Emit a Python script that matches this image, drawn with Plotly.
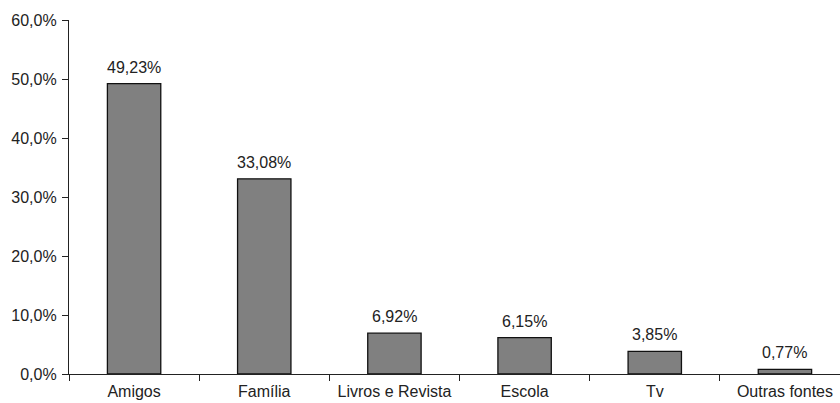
import plotly.graph_objects as go

# Sources of information (share of respondents, %)
categories = ["Amigos", "Família", "Livros e Revista", "Escola", "Tv", "Outras fontes"]
values = [49.23, 33.08, 6.92, 6.15, 3.85, 0.77]
y_ticks = [0, 10, 20, 30, 40, 50, 60]
y_tick_labels = ["0,0%", "10,0%", "20,0%", "30,0%", "40,0%", "50,0%", "60,0%"]

bar_labels = [f"{v:.2f}%".replace(".", ",") for v in values]

font_family = "Liberation Sans, Arial, sans-serif"
font_size = 16
text_color = "#222222"
line_color = "#222222"

fig = go.Figure(
    go.Bar(
        x=categories,
        y=values,
        width=0.41,
        marker=dict(color="#808080", line=dict(color="#111111", width=1.3)),
        hoverinfo="skip",
    )
)

# value labels above each bar
for cat, v, lab in zip(categories, values, bar_labels):
    fig.add_annotation(
        x=cat,
        y=v,
        text=lab,
        showarrow=False,
        yanchor="bottom",
        yshift=6,
        font=dict(family=font_family, size=font_size, color=text_color),
    )

fig.update_layout(
    width=840,
    height=403,
    margin=dict(l=69, r=0, t=20, b=29),
    paper_bgcolor="white",
    plot_bgcolor="white",
    showlegend=False,
    font=dict(family=font_family, size=font_size, color=text_color),
)

fig.update_xaxes(
    type="category",
    range=[-0.5, 5.423],
    automargin=False,
    tickson="boundaries",
    ticks="outside",
    ticklen=6,
    tickwidth=1.3,
    tickcolor=line_color,
    ticklabelstandoff=3,
    showgrid=False,
    zeroline=False,
    showline=True,
    linecolor=line_color,
    linewidth=1.3,
    tickfont=dict(family=font_family, size=font_size, color=text_color),
)

fig.update_yaxes(
    range=[0, 60],
    automargin=False,
    tickmode="array",
    tickvals=y_ticks,
    ticktext=y_tick_labels,
    showgrid=False,
    zeroline=False,
    showline=True,
    linecolor=line_color,
    linewidth=1.3,
    ticks="outside",
    ticklen=6,
    tickcolor=line_color,
    tickwidth=1.3,
    ticklabelstandoff=2,
    tickfont=dict(family=font_family, size=font_size, color=text_color),
)

fig.write_html("out.html")
